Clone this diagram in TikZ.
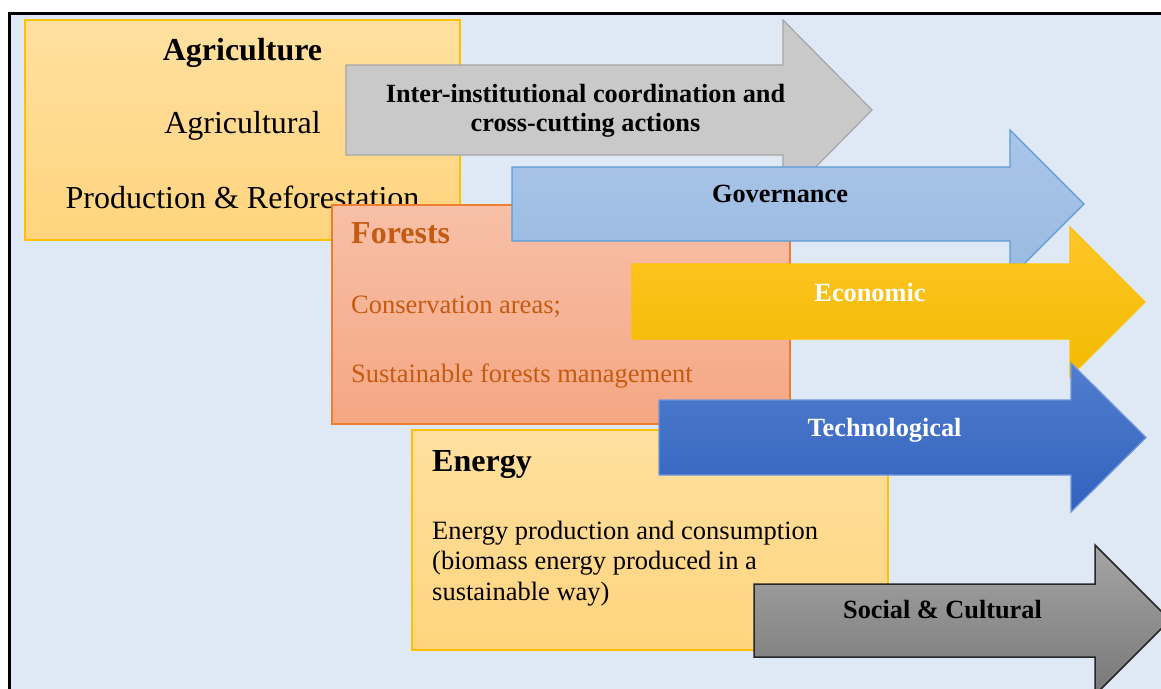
\documentclass[tikz,border=0pt]{standalone}
\usepackage{fontspec}
\setmainfont{Liberation Serif}
\usepackage{tikz}
\definecolor{paleblue}{RGB}{222,233,245}
\definecolor{amber}{RGB}{255,192,0}
\definecolor{wheat1}{RGB}{255,224,160}
\definecolor{wheat2}{RGB}{255,212,125}
\definecolor{salmon1}{RGB}{247,192,168}
\definecolor{salmon2}{RGB}{245,166,130}
\definecolor{rust}{RGB}{237,125,49}
\definecolor{forestred}{RGB}{197,90,17}
\definecolor{silver}{RGB}{201,201,201}
\definecolor{silveredge}{RGB}{166,166,166}
\definecolor{sky1}{RGB}{170,197,232}
\definecolor{sky2}{RGB}{154,186,226}
\definecolor{skyedge}{RGB}{91,155,213}
\definecolor{gold1}{RGB}{255,198,40}
\definecolor{gold2}{RGB}{242,186,0}
\definecolor{royal1}{RGB}{80,125,206}
\definecolor{royal2}{RGB}{50,98,190}
\definecolor{royaledge}{RGB}{110,150,220}
\definecolor{ash1}{RGB}{165,165,165}
\definecolor{ash2}{RGB}{120,120,120}

\begin{document}
\begin{tikzpicture}[x=1pt, y=-1pt,
        box/.style={draw, line width=1.2, outer sep=0, inner sep=0, anchor=north west},
        wheatbox/.style={box, draw=amber, top color=wheat1, bottom color=wheat2},
        salmonbox/.style={box, draw=rust, top color=salmon1, bottom color=salmon2},
        head/.style={font=\fontsize{32}{38}\selectfont\bfseries},
        bigtext/.style={font=\fontsize{32}{38}\selectfont},
        bodytext/.style={font=\fontsize{26.5}{30.5}\selectfont, inner sep=0},
        arrowtext/.style={font=\fontsize{26.3}{29}\selectfont\bfseries, inner sep=0},
        greyarrow/.style={draw=silveredge, line width=1.2, fill=silver},
        skyarrow/.style={draw=skyedge, line width=1.2, top color=sky1, bottom color=sky2},
        goldarrow/.style={draw=amber, line width=1.2, top color=gold1, middle color=amber, bottom color=gold2},
        royalarrow/.style={draw=royaledge, line width=1.2, top color=royal1, bottom color=royal2},
        asharrow/.style={draw=black!85, line width=1.5, top color=ash1, bottom color=ash2}]
        \path[use as bounding box, clip] (0,0) rectangle (1161,688);
        \node[box, draw=black, line width=3, fill=paleblue, minimum width=1180, minimum height=700] (frame) at (9,13) {};

        % agriculture
        \node[wheatbox, minimum width=435, minimum height=220] (agri) at (25,20) {};
        \node[head, anchor=base]     (agrititle) at (242.5,60)  {Agriculture};
        \node[bigtext, anchor=base]  (agriline1) at (242.5,133) {Agricultural};
        \node[bigtext, anchor=base]  (agriline2) at (242.5,208) {Production \& Reforestation};

        % coordination arrow (base sits on the last line)
        \draw[greyarrow] (346,65) -- (783,65) -- (783,20) -- (872,110) -- (783,200) -- (783,155) -- (346,155) -- cycle;
        \node[arrowtext, align=center, anchor=base] (coordtext) at (585.5,131) {Inter-institutional coordination and\\cross-cutting actions};

        % forests
        \node[salmonbox, minimum width=458, minimum height=219] (forest) at (332,205) {};
        \node[head, text=forestred, inner sep=0, anchor=base west]     (foresttitle) at (351,243) {Forests};
        \node[bodytext, text=forestred, anchor=base west] (forestline1) at (351,313) {Conservation areas;};
        \node[bodytext, text=forestred, anchor=base west] (forestline2) at (351,382) {Sustainable forests management};

        % governance and economic arrows
        \draw[skyarrow] (512,167) -- (1010,167) -- (1010,130) -- (1084,204) -- (1010,278) -- (1010,241) -- (512,241) -- cycle;
        \node[arrowtext, anchor=base] (govtext) at (780,202) {Governance};
        \draw[goldarrow] (632,264) -- (1070,264) -- (1070,227) -- (1145,302) -- (1070,377) -- (1070,339) -- (632,339) -- cycle;
        \node[arrowtext, text=white, anchor=base] (econtext) at (870,301) {Economic};

        % energy
        \node[wheatbox, minimum width=476, minimum height=220] (energy) at (412,430) {};
        \node[head, inner sep=0, anchor=base west] (energytitle) at (432,471) {Energy};
        \node[bodytext, align=left, anchor=base west] (energytext) at (432,600)
            {Energy production and consumption\\(biomass energy produced in a\\sustainable way)};

        % technological and social arrows
        \draw[royalarrow] (659,400) -- (1071,400) -- (1071,363) -- (1146,437.5) -- (1071,512) -- (1071,475) -- (659,475) -- cycle;
        \node[arrowtext, text=white, anchor=base] (techtext) at (884.5,436) {Technological};
        \draw[asharrow] (754,584) -- (1095,584) -- (1095,545) -- (1170,620) -- (1095,695) -- (1095,657) -- (754,657) -- cycle;
        \node[arrowtext, anchor=base] (socialtext) at (942.5,618) {Social \& Cultural};
\end{tikzpicture}
\end{document}
